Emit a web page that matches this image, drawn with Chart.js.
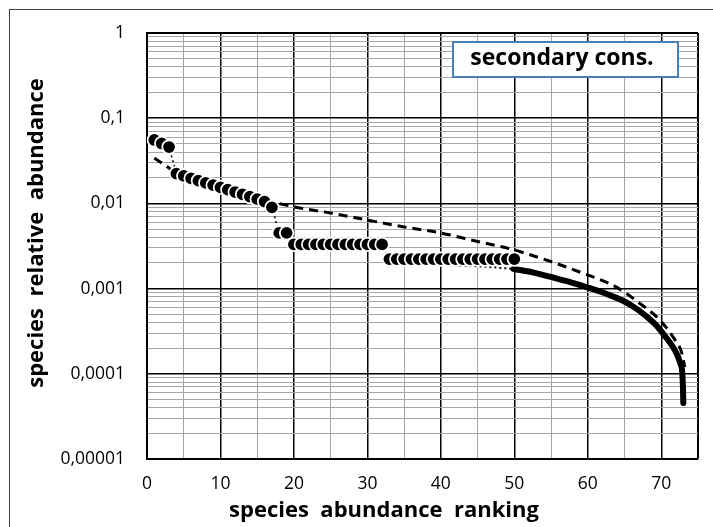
<!DOCTYPE html>
<html>
<head>
<meta charset="utf-8">
<title>secondary cons.</title>
<script src="https://cdn.jsdelivr.net/npm/chart.js@4.4.1/dist/chart.umd.min.js"></script>
<style>
    html, body { margin: 0; padding: 0; background: #ffffff; }
    #chart { display: block; }
</style>
</head>
<body>
<canvas id="chart" width="713" height="527"></canvas>
<script>
// observed ranks (markers)
const rankObs = [1, 2, 3, 4, 5, 6, 7, 8, 9, 10, 11, 12, 13, 14, 15, 16, 17, 18, 19, 20,
    21, 22, 23, 24, 25, 26, 27, 28, 29, 30, 31, 32, 33, 34, 35, 36, 37, 38, 39, 40,
    41, 42, 43, 44, 45, 46, 47, 48, 49, 50];
const valueObs = [0.0555, 0.0505, 0.0459, 0.0224, 0.0210, 0.0197, 0.0185, 0.0174, 0.0164, 0.0154,
    0.0145, 0.0136, 0.0128, 0.0120, 0.0112, 0.0105, 0.0090, 0.0045, 0.0045, 0.0033,
    0.0033, 0.0033, 0.0033, 0.0033, 0.0033, 0.0033, 0.0033, 0.0033, 0.0033, 0.0033,
    0.0033, 0.0033, 0.00222, 0.00222, 0.00222, 0.00222, 0.00222, 0.00222, 0.00222, 0.00222,
    0.00222, 0.00222, 0.00222, 0.00222, 0.00222, 0.00222, 0.00222, 0.00222, 0.00222, 0.00222];

// thick solid tail
const rankTail = [49.9, 52.5, 54.8, 57.5, 60, 62.5, 64.8, 66.5, 68, 69.2, 70.2, 71.3, 72.1,
    72.6, 72.85, 72.95, 73.0];
const valueTail = [0.00170, 0.00155, 0.00138, 0.00120, 0.00103, 0.00087, 0.00072, 0.00059,
    0.00047, 0.00038, 0.00030, 0.000225, 0.000172, 0.000132, 0.000105, 0.00007, 0.0000454];

// dashed model curve
const rankModel = [1, 2, 3, 4, 6, 8, 10, 12, 14, 16, 18, 20.8, 25, 30, 35, 40, 45, 50,
    59.3, 63.9, 67, 69.8, 71.6, 72.8, 73.2];
const valueModel = [0.0341, 0.0298, 0.0260, 0.0224, 0.0190, 0.0163, 0.0141, 0.0125, 0.0113, 0.0105,
    0.0099, 0.00883, 0.00771, 0.00638, 0.00529, 0.00450, 0.00357, 0.00284,
    0.00152, 0.00104, 0.000678, 0.000428, 0.000270, 0.000175, 0.000120];

// dotted link under the last markers
const rankLink = [33, 40, 45.7, 50];
const valueLink = [0.0020, 0.0019, 0.00182, 0.00170];

const xMajorTicks = [0, 10, 20, 30, 40, 50, 60, 70];
const yTickValues = [1, 0.1, 0.01, 0.001, 0.0001, 0.00001];
const yTickLabels = ['1', '0,1', '0,01', '0,001', '0,0001', '0,00001'];
const legendLabel = 'secondary cons.';
const xTitle = 'species  abundance  ranking';
const yTitle = 'species  relative  abundance';

const FONT = "'Open Sans', sans-serif";

function toPoints(xs, ys) {
    return xs.map((x, i) => ({ x: x, y: ys[i] }));
}

function decadeIndex(v) {
    return yTickValues.findIndex(d => Math.abs(v / d - 1) < 1e-6);
}

// frame, legend box and axis titles
const framePlugin = {
    id: 'frame',
    beforeDraw(chart) {
        const ctx = chart.ctx;
        ctx.save();
        ctx.fillStyle = '#ffffff';
        ctx.fillRect(0, 0, chart.width, chart.height);
        ctx.strokeStyle = '#3f3f3f';
        ctx.lineWidth = 1;
        ctx.strokeRect(9.5, 9.5, chart.width + 20, chart.height + 20);
        ctx.restore();
    },
    afterDraw(chart) {
        const ctx = chart.ctx;
        ctx.save();
        ctx.fillStyle = '#ffffff';
        ctx.fillRect(453, 42, 225, 35);
        ctx.strokeStyle = '#4a7ebb';
        ctx.lineWidth = 2;
        ctx.strokeRect(453, 42, 225, 35);

        ctx.fillStyle = '#000000';
        ctx.textAlign = 'center';
        ctx.textBaseline = 'middle';
        ctx.font = "bold 23px " + FONT;
        ctx.fillText(legendLabel, 562, 58);

        ctx.font = "bold 22px " + FONT;
        ctx.fillText(xTitle, 384, 511);

        ctx.translate(37, 233);
        ctx.rotate(-Math.PI / 2);
        ctx.fillText(yTitle, 0, 0);
        ctx.restore();
    }
};

new Chart(document.getElementById('chart'), {
    type: 'scatter',
    data: {
        datasets: [
            {
                label: legendLabel,
                data: toPoints(rankObs, valueObs),
                showLine: true,
                borderColor: '#000000',
                borderWidth: 1.5,
                borderDash: [2, 3],
                pointRadius: 6.75,
                pointBackgroundColor: '#000000',
                pointBorderColor: '#ffffff',
                pointBorderWidth: 1.75
            },
            {
                label: 'tail',
                data: toPoints(rankTail, valueTail),
                showLine: true,
                borderColor: '#000000',
                borderWidth: 6,
                borderCapStyle: 'round',
                cubicInterpolationMode: 'monotone',
                pointRadius: 0
            },
            {
                label: 'model',
                data: toPoints(rankModel, valueModel),
                showLine: true,
                borderColor: '#000000',
                borderWidth: 3,
                borderDash: [9, 6],
                cubicInterpolationMode: 'monotone',
                pointRadius: 0
            },
            {
                label: 'link',
                data: toPoints(rankLink, valueLink),
                showLine: true,
                borderColor: '#000000',
                borderWidth: 2,
                borderDash: [2, 3],
                pointRadius: 0
            }
        ]
    },
    options: {
        responsive: false,
        devicePixelRatio: 1,
        animation: false,
        layout: { padding: { left: 10, top: 33, right: 15, bottom: 0 } },
        plugins: {
            legend: { display: false },
            tooltip: { enabled: false }
        },
        scales: {
            x: {
                type: 'linear',
                min: 0,
                max: 75,
                afterFit: scale => { scale.height = 68; },
                border: { color: '#000000', width: 2 },
                grid: {
                    drawTicks: false,
                    color: ctx => (ctx.tick && (ctx.tick.value % 10 === 0 || ctx.tick.value === 75)) ? '#000000' : '#a6a6a6',
                    lineWidth: ctx => (ctx.tick && ctx.tick.value === 75) ? 2 : (ctx.tick && ctx.tick.value % 10 === 0 ? 1.5 : 1)
                },
                ticks: {
                    stepSize: 5,
                    padding: 15,
                    autoSkip: false,
                    maxRotation: 0,
                    color: '#000000',
                    font: { family: FONT, size: 17.5 },
                    callback: v => xMajorTicks.includes(v) ? String(v) : ''
                }
            },
            y: {
                type: 'logarithmic',
                min: 0.00001,
                max: 1,
                afterFit: scale => { scale.width = 137; },
                afterBuildTicks: scale => {
                    const ticks = [];
                    yTickValues.slice(1).forEach(d => {
                        for (let m = 1; m < 10; m++) ticks.push({ value: d * m });
                    });
                    ticks.push({ value: yTickValues[0] });
                    ticks.sort((a, b) => a.value - b.value);
                    scale.ticks = ticks;
                },
                border: { color: '#000000', width: 2 },
                grid: {
                    drawTicks: false,
                    color: ctx => (ctx.tick && decadeIndex(ctx.tick.value) >= 0) ? '#000000' : '#a6a6a6',
                    lineWidth: ctx => {
                        if (!ctx.tick) return 1;
                        const i = decadeIndex(ctx.tick.value);
                        return i === 0 ? 2 : (i > 0 ? 1.5 : 1);
                    }
                },
                ticks: {
                    padding: 22,
                    autoSkip: false,
                    color: '#000000',
                    font: { family: FONT, size: 17.5 },
                    callback: v => {
                        const i = decadeIndex(v);
                        return i >= 0 ? yTickLabels[i] : '';
                    }
                }
            }
        }
    },
    plugins: [framePlugin]
});
</script>
</body>
</html>
